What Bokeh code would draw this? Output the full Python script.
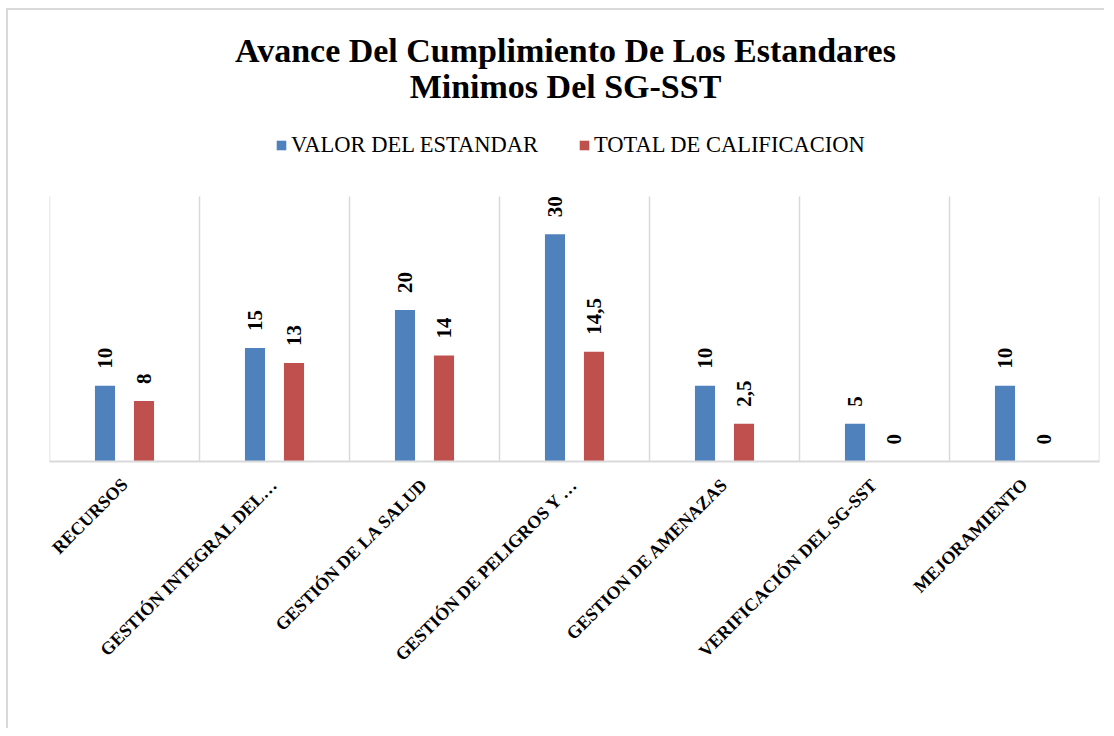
import math
from bokeh.plotting import figure
from bokeh.models import ColumnDataSource, Range1d, FixedTicker, LabelSet, Legend, LegendItem, Label
from bokeh.embed import file_html
from bokeh.resources import INLINE

categories = ["RECURSOS", "GESTIÓN INTEGRAL DEL…", "GESTIÓN DE LA SALUD",
              "GESTIÓN DE PELIGROS Y …", "GESTION DE AMENAZAS",
              "VERIFICACIÓN DEL SG-SST", "MEJORAMIENTO"]
valor_estandar = [10, 15, 20, 30, 10, 5, 10]
# bar heights as drawn in the picture (the AMENAZAS bar is drawn at 5, labelled 2,5)
total_calificacion = [8, 13, 14, 14.5, 5, 0, 0]
valor_labels = ["10", "15", "20", "30", "10", "5", "10"]
total_labels = ["8", "13", "14", "14,5", "2,5", "0", "0"]
series_names = ["VALOR DEL ESTANDAR", "TOTAL DE CALIFICACION"]
title_lines = ["Avance Del Cumplimiento De Los Estandares", "Minimos Del SG-SST"]
y_max = 35

n = len(categories)
centers = [i + 0.5 for i in range(n)]
offset = 0.13
bar_w = 0.134

# layout (px)
W, H = 1098, 720
frame_h = 451          # frame spans figure top to axis
plot_px = 265          # pixel height of the 0..y_max band
y_end = y_max * frame_h / plot_px

src_a = ColumnDataSource(dict(x=[c - offset for c in centers], top=valor_estandar,
                              lbl=valor_labels))
src_b = ColumnDataSource(dict(x=[c + offset for c in centers], top=total_calificacion,
                              lbl=total_labels))
grid_src = ColumnDataSource(dict(x=list(range(n + 1)), y0=[0] * (n + 1), y1=[y_max] * (n + 1)))

p = figure(width=W, height=H, output_backend="svg", toolbar_location=None,
           x_range=Range1d(0, n), y_range=Range1d(0, y_end), title_location=None,
           min_border_left=41, min_border_right=7, min_border_bottom=H - frame_h,
           min_border_top=0)
p.styles = {"border-left": "2px solid #d9d9d9", "border-top": "2px solid #d9d9d9",
            "margin-left": "6px", "margin-top": "8px"}

p.segment(x0="x", y0="y0", x1="x", y1="y1", source=grid_src,
          line_color="#d9d9d9", line_width=1.5)

blue = "#4f81bd"
red = "#c0504d"
ra = p.vbar(x="x", top="top", width=bar_w, source=src_a, fill_color=blue, line_color=None)
rb = p.vbar(x="x", top="top", width=bar_w, source=src_b, fill_color=red, line_color=None)

for src in (src_a, src_b):
    lab = LabelSet(x="x", y="top", text="lbl", source=src, angle=math.pi / 2,
                   text_align="left", text_baseline="middle", y_offset=17,
                   text_font="Liberation Serif", text_font_style="bold",
                   text_font_size="21px", text_color="#000000")
    p.add_layout(lab)

for txt, yy in zip(title_lines, [411, 375]):
    p.add_layout(Label(x=516, y=yy, x_units="screen", y_units="screen", text=txt,
                       text_align="center", text_baseline="middle",
                       text_font="Liberation Serif", text_font_style="bold",
                       text_font_size="34px", text_color="#000000"))

p.yaxis.visible = False
p.ygrid.visible = False
p.xgrid.visible = False
p.xaxis.ticker = FixedTicker(ticks=centers)
p.xaxis.major_label_overrides = {c: cat for c, cat in zip(centers, categories)}
p.xaxis.major_label_orientation = math.pi / 4
p.xaxis.major_label_text_font = "Liberation Serif"
p.xaxis.major_label_text_font_style = "bold"
p.xaxis.major_label_text_font_size = "18px"
p.xaxis.major_label_text_color = "#000000"
p.xaxis.major_label_standoff = 14
p.xaxis.major_tick_line_color = None
p.xaxis.minor_tick_line_color = None
p.xaxis.axis_line_color = "#d9d9d9"
p.xaxis.axis_line_width = 2
p.outline_line_color = None

legend = Legend(items=[LegendItem(label=series_names[0], renderers=[ra]),
                       LegendItem(label=series_names[1], renderers=[rb])],
                orientation="horizontal", location=(226, 303),
                label_text_font="Liberation Serif", label_text_font_size="22.5px",
                label_text_color="#000000", glyph_width=12, glyph_height=12,
                label_standoff=4, spacing=40, padding=0, margin=0,
                border_line_color=None, background_fill_alpha=0)
p.add_layout(legend)

open("out.html", "w").write(file_html(p, INLINE))
